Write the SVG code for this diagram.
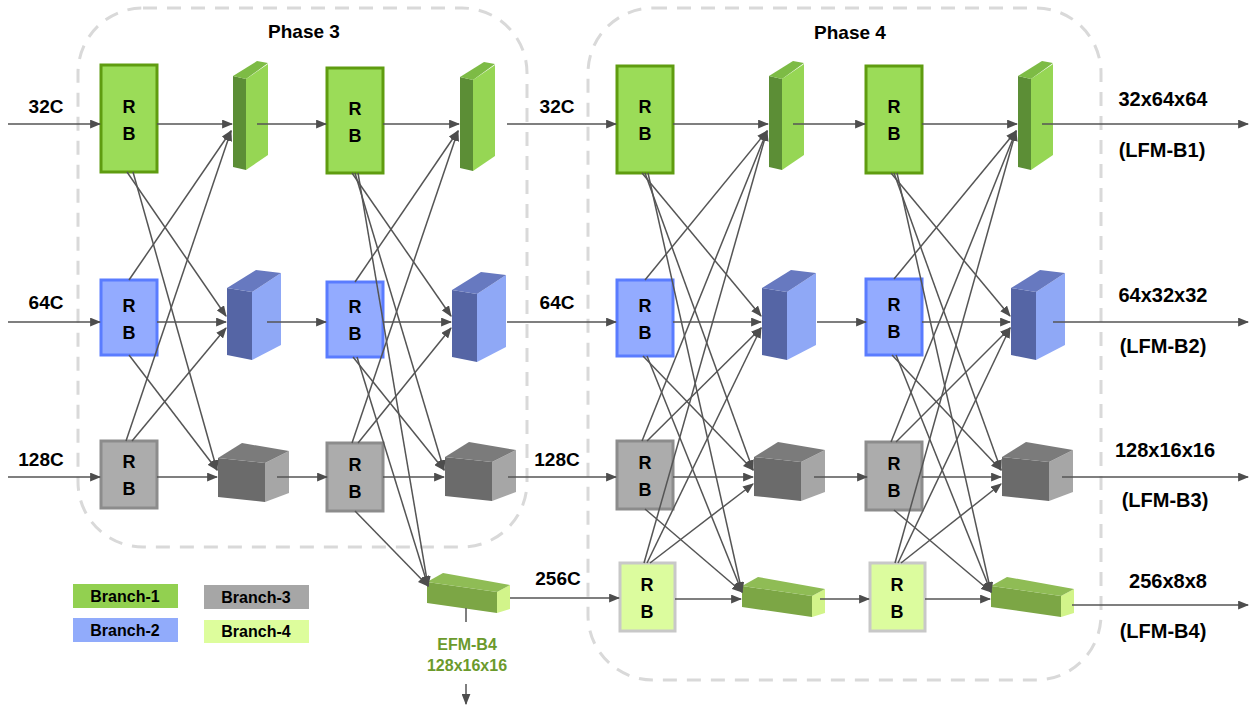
<svg xmlns="http://www.w3.org/2000/svg" xmlns:xlink="http://www.w3.org/1999/xlink" width="1252" height="706" viewBox="0 0 1252 706">
<style>
text{font-family:"Liberation Sans",Arial,sans-serif;font-weight:bold;fill:#000}
.lbl{font-size:19px;text-anchor:middle}
.out{font-size:20px;text-anchor:middle}
.rb{font-size:18px;text-anchor:middle}
.leg{font-size:16px;text-anchor:middle}
.efm{font-size:16px;text-anchor:middle;fill:#6b9a2c}
.phase{fill:none;stroke:#d9d9d9;stroke-width:3;stroke-dasharray:14 10}
.rbg{fill:#9bdc58;stroke:#5f9c10;stroke-width:3}
.rbb{fill:#93abff;stroke:#5a7cff;stroke-width:3}
.rbk{fill:#acacac;stroke:#8c8c8c;stroke-width:3}
.rbl{fill:#dcfc9e;stroke:#c8c8c8;stroke-width:3}
.c{stroke:#555;stroke-width:1.5;fill:none;marker-end:url(#ah)}
.n{stroke:#555;stroke-width:1.5;fill:none}
</style>
<defs>
<marker id="ah" viewBox="0 0 10 8" refX="9" refY="4" markerWidth="11" markerHeight="9" markerUnits="userSpaceOnUse" orient="auto"><path d="M0,0 L10,4 L0,8 z" fill="#4d4d4d"/></marker>
<g id="plate">
<polygon points="0,0 13,3 13,94 0,91" fill="#5c8e36"/>
<polygon points="13,3 35,-12 35,79 13,94" fill="#96d654"/>
<polygon points="0,0 24,-15 35,-13 13,3" fill="#7dbb45"/>
</g>
<g id="bbox">
<polygon points="0,0 25,4 25,72 0,67" fill="#5565a5"/>
<polygon points="25,4 54,-15 54,57 25,72" fill="#8fa8f6"/>
<polygon points="0,0 29,-18 54,-15 25,4" fill="#6779c0"/>
</g>
<g id="cube">
<polygon points="0,0 47,5 47,44 0,39" fill="#6b6b6b"/>
<polygon points="47,5 71,-7 71,35 47,44" fill="#a6a6a6"/>
<polygon points="0,0 24,-15 71,-7 47,5" fill="#7b7b7b"/>
</g>
<g id="bar">
<polygon points="0,0 70,10 70,31 0,21" fill="#7ca645"/>
<polygon points="70,10 83,3 83,27 70,31" fill="#d2f48a"/>
<polygon points="0,0 16,-9 83,3 70,10" fill="#8fbc55"/>
</g>
</defs>
<rect width="1252" height="706" fill="#fff"/>

<g id="phase3"><rect class="phase" x="78" y="8" width="449" height="539" rx="65"/><text x="304" y="38" style="font-size:19px;text-anchor:middle">Phase 3</text></g>
<g id="phase4"><rect class="phase" x="588" y="8" width="513" height="672" rx="65"/><text x="850" y="39" style="font-size:19px;text-anchor:middle">Phase 4</text></g>

<g id="p3-rb-g1"><rect class="rbg" x="101" y="65" width="56" height="107"/><text class="rb" x="129" y="113">R</text><text class="rb" x="129" y="140">B</text></g>
<g id="p3-rb-b1"><rect class="rbb" x="101" y="280" width="56" height="75"/><text class="rb" x="129" y="312">R</text><text class="rb" x="129" y="339">B</text></g>
<g id="p3-rb-k1"><rect class="rbk" x="101" y="441" width="56" height="67"/><text class="rb" x="129" y="468">R</text><text class="rb" x="129" y="495">B</text></g>
<g id="p3-f-g1"><use xlink:href="#plate" x="233" y="76"/></g>
<g id="p3-f-b1"><use xlink:href="#bbox" x="227" y="288"/></g>
<g id="p3-f-k1"><use xlink:href="#cube" x="218" y="458"/></g>

<g id="p3-rb-g2"><rect class="rbg" x="327" y="68" width="56" height="105"/><text class="rb" x="355" y="115">R</text><text class="rb" x="355" y="142">B</text></g>
<g id="p3-rb-b2"><rect class="rbb" x="327" y="282" width="56" height="75"/><text class="rb" x="355" y="313">R</text><text class="rb" x="355" y="340">B</text></g>
<g id="p3-rb-k2"><rect class="rbk" x="327" y="443" width="56" height="68"/><text class="rb" x="355" y="471">R</text><text class="rb" x="355" y="498">B</text></g>
<g id="p3-f-g2"><use xlink:href="#plate" x="460" y="77"/></g>
<g id="p3-f-b2"><use xlink:href="#bbox" x="452" y="290"/></g>
<g id="p3-f-k2"><use xlink:href="#cube" x="445" y="457"/></g>
<g id="efm-b4"><use xlink:href="#bar" x="427" y="582"/><text class="efm" x="467" y="650">EFM-B4</text><text class="efm" x="467" y="671">128x16x16</text></g>

<g id="p4-rb-g1"><rect class="rbg" x="617" y="66" width="56" height="107"/><text class="rb" x="645" y="113">R</text><text class="rb" x="645" y="140">B</text></g>
<g id="p4-rb-b1"><rect class="rbb" x="617" y="280" width="56" height="76"/><text class="rb" x="645" y="312">R</text><text class="rb" x="645" y="339">B</text></g>
<g id="p4-rb-k1"><rect class="rbk" x="617" y="441" width="56" height="68"/><text class="rb" x="645" y="469">R</text><text class="rb" x="645" y="496">B</text></g>
<g id="p4-rb-l1"><rect class="rbl" x="620" y="563" width="55" height="68"/><text class="rb" x="647" y="591">R</text><text class="rb" x="647" y="618">B</text></g>
<g id="p4-f-g1"><use xlink:href="#plate" x="769" y="76"/></g>
<g id="p4-f-b1"><use xlink:href="#bbox" x="762" y="288"/></g>
<g id="p4-f-k1"><use xlink:href="#cube" x="754" y="457"/></g>
<g id="p4-f-l1"><use xlink:href="#bar" x="742" y="586"/></g>

<g id="p4-rb-g2"><rect class="rbg" x="866" y="66" width="56" height="107"/><text class="rb" x="894" y="113">R</text><text class="rb" x="894" y="140">B</text></g>
<g id="p4-rb-b2"><rect class="rbb" x="866" y="279" width="56" height="76"/><text class="rb" x="894" y="311">R</text><text class="rb" x="894" y="338">B</text></g>
<g id="p4-rb-k2"><rect class="rbk" x="866" y="442" width="56" height="68"/><text class="rb" x="894" y="470">R</text><text class="rb" x="894" y="497">B</text></g>
<g id="p4-rb-l2"><rect class="rbl" x="870" y="563" width="55" height="68"/><text class="rb" x="897" y="591">R</text><text class="rb" x="897" y="618">B</text></g>
<g id="p4-f-g2"><use xlink:href="#plate" x="1018" y="76"/></g>
<g id="p4-f-b2"><use xlink:href="#bbox" x="1011" y="288"/></g>
<g id="p4-f-k2"><use xlink:href="#cube" x="1002" y="457"/></g>
<g id="p4-f-l2"><use xlink:href="#bar" x="991" y="586"/></g>

<g id="labels">
<text class="lbl" x="46" y="113">32C</text>
<text class="lbl" x="46" y="309">64C</text>
<text class="lbl" x="41" y="466">128C</text>
<text class="lbl" x="557" y="113">32C</text>
<text class="lbl" x="557" y="309">64C</text>
<text class="lbl" x="557" y="466">128C</text>
<text class="lbl" x="558" y="585">256C</text>
<text class="out" x="1163" y="106">32x64x64</text>
<text class="out" x="1162" y="157">(LFM-B1)</text>
<text class="out" x="1163" y="302">64x32x32</text>
<text class="out" x="1163" y="353">(LFM-B2)</text>
<text class="out" x="1165" y="457">128x16x16</text>
<text class="out" x="1165" y="507">(LFM-B3)</text>
<text class="out" x="1168" y="588">256x8x8</text>
<text class="out" x="1163" y="638">(LFM-B4)</text>
</g>

<g id="legend">
<rect x="73" y="584" width="105" height="24" fill="#92d050"/><text class="leg" x="125" y="602">Branch-1</text>
<rect x="73" y="618" width="105" height="24" fill="#91abfb"/><text class="leg" x="125" y="636">Branch-2</text>
<rect x="204" y="585" width="105" height="24" fill="#a6a6a6"/><text class="leg" x="256" y="603">Branch-3</text>
<rect x="204" y="620" width="105" height="23" fill="#ddfd9c"/><text class="leg" x="256" y="637">Branch-4</text>
</g>

<g id="connectors">
<line class="c" x1="8" y1="124" x2="100" y2="124"/>
<line class="c" x1="8" y1="322" x2="100" y2="322"/>
<line class="c" x1="8" y1="477" x2="100" y2="477"/>

<line class="c" x1="157" y1="124" x2="232" y2="124"/>
<line class="c" x1="157" y1="322" x2="226" y2="322"/>
<line class="c" x1="157" y1="477" x2="217" y2="477"/>
<line class="c" x1="127" y1="172" x2="226" y2="316"/>
<line class="c" x1="133" y1="172" x2="217" y2="470"/>
<line class="c" x1="129" y1="280" x2="231" y2="131"/>
<line class="c" x1="129" y1="355" x2="217" y2="470"/>
<line class="c" x1="126" y1="441" x2="231" y2="131"/>
<line class="c" x1="132" y1="441" x2="226" y2="328"/>

<line class="c" x1="257" y1="124" x2="326" y2="124"/>
<line class="c" x1="267" y1="322" x2="326" y2="322"/>
<line class="c" x1="277" y1="477" x2="327" y2="477"/>

<line class="c" x1="383" y1="124" x2="459" y2="124"/>
<line class="c" x1="383" y1="322" x2="451" y2="322"/>
<line class="c" x1="383" y1="477" x2="444" y2="477"/>
<line class="c" x1="352" y1="173" x2="451" y2="316"/>
<line class="c" x1="355" y1="173" x2="444" y2="470"/>
<line class="c" x1="358" y1="173" x2="428" y2="586"/>
<line class="c" x1="355" y1="282" x2="458" y2="131"/>
<line class="c" x1="353" y1="357" x2="444" y2="470"/>
<line class="c" x1="357" y1="357" x2="428" y2="586"/>
<line class="c" x1="352" y1="443" x2="458" y2="131"/>
<line class="c" x1="358" y1="443" x2="451" y2="328"/>
<line class="c" x1="355" y1="511" x2="428" y2="586"/>

<line class="c" x1="507" y1="124" x2="616" y2="124"/>
<line class="c" x1="507" y1="322" x2="616" y2="322"/>
<line class="c" x1="508" y1="477" x2="616" y2="477"/>
<line class="c" x1="510" y1="598" x2="619" y2="598"/>
<line class="n" x1="466" y1="608" x2="466" y2="622"/>
<line class="c" x1="466" y1="684" x2="466" y2="704"/>

<line class="c" x1="673" y1="124" x2="768" y2="124"/>
<line class="c" x1="673" y1="322" x2="761" y2="322"/>
<line class="c" x1="673" y1="477" x2="753" y2="477"/>
<line class="c" x1="675" y1="599" x2="741" y2="599"/>
<line class="c" x1="642" y1="173" x2="761" y2="316"/>
<line class="c" x1="645" y1="173" x2="753" y2="470"/>
<line class="c" x1="648" y1="173" x2="742" y2="592"/>
<line class="c" x1="645" y1="280" x2="767" y2="131"/>
<line class="c" x1="643" y1="356" x2="753" y2="470"/>
<line class="c" x1="647" y1="356" x2="742" y2="592"/>
<line class="c" x1="642" y1="441" x2="767" y2="131"/>
<line class="c" x1="647" y1="441" x2="761" y2="328"/>
<line class="c" x1="645" y1="509" x2="742" y2="592"/>
<line class="c" x1="644" y1="563" x2="767" y2="131"/>
<line class="c" x1="647" y1="563" x2="761" y2="328"/>
<line class="c" x1="650" y1="563" x2="753" y2="484"/>

<line class="c" x1="793" y1="124" x2="865" y2="124"/>
<line class="c" x1="817" y1="322" x2="866" y2="322"/>
<line class="c" x1="814" y1="477" x2="867" y2="477"/>
<line class="c" x1="820" y1="599" x2="869" y2="599"/>

<line class="c" x1="922" y1="124" x2="1017" y2="124"/>
<line class="c" x1="922" y1="322" x2="1010" y2="322"/>
<line class="c" x1="922" y1="477" x2="1001" y2="477"/>
<line class="c" x1="925" y1="599" x2="990" y2="599"/>
<line class="c" x1="891" y1="173" x2="1010" y2="316"/>
<line class="c" x1="894" y1="173" x2="1001" y2="470"/>
<line class="c" x1="897" y1="173" x2="991" y2="592"/>
<line class="c" x1="894" y1="279" x2="1016" y2="131"/>
<line class="c" x1="892" y1="355" x2="1001" y2="470"/>
<line class="c" x1="896" y1="355" x2="991" y2="592"/>
<line class="c" x1="891" y1="442" x2="1016" y2="131"/>
<line class="c" x1="896" y1="442" x2="1010" y2="328"/>
<line class="c" x1="894" y1="510" x2="991" y2="592"/>
<line class="c" x1="895" y1="563" x2="1016" y2="131"/>
<line class="c" x1="898" y1="563" x2="1010" y2="328"/>
<line class="c" x1="901" y1="563" x2="1001" y2="484"/>

<line class="c" x1="1042" y1="124" x2="1248" y2="124"/>
<line class="c" x1="1053" y1="322" x2="1248" y2="322"/>
<line class="c" x1="1062" y1="477" x2="1248" y2="477"/>
<line class="c" x1="1072" y1="605" x2="1248" y2="605"/>
</g>
</svg>
